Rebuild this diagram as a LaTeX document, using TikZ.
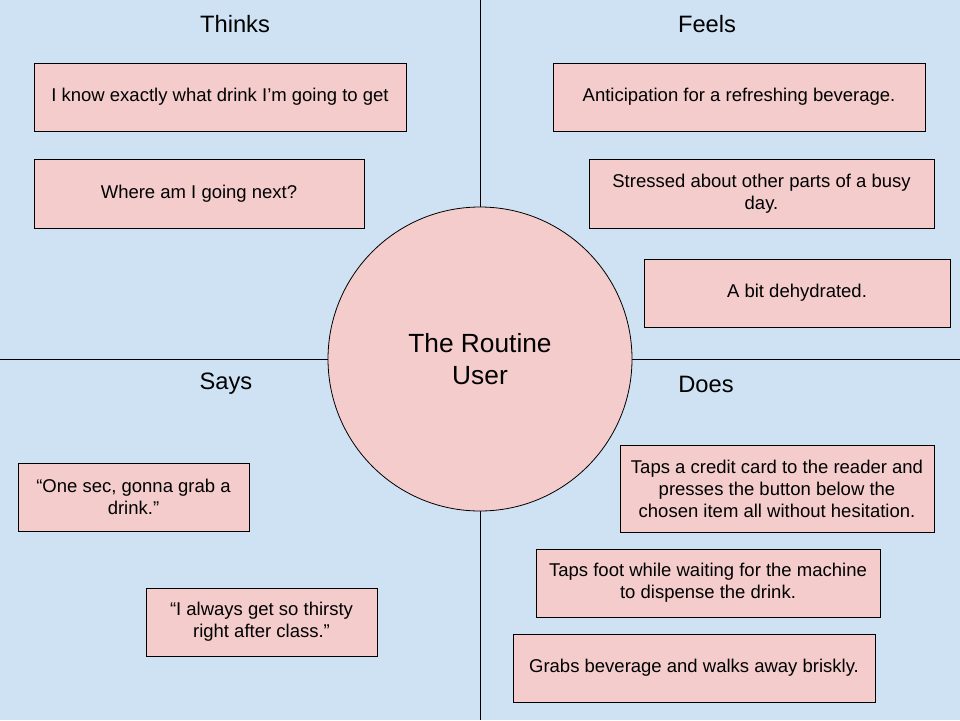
\documentclass[tikz,border=0pt]{standalone}
\usepackage{fontspec}
\setmainfont{Liberation Sans}
\usepackage{xcolor}
\usetikzlibrary{positioning}
\definecolor{mapblue}{HTML}{CFE2F3}
\definecolor{notepink}{HTML}{F4CCCC}

\begin{document}
\begin{tikzpicture}[x=1pt, y=-1pt,
                note/.style={draw=black, fill=notepink, line width=0.8pt,
                    minimum height=68pt, inner sep=0pt, align=center,
                    font=\fontsize{18.5}{22}\selectfont},
                heading/.style={font=\fontsize{23.7}{28}\selectfont},
                divider/.style={line width=0.8pt}]
            % background and quadrants
            \fill[mapblue] (0, 0) rectangle (960, 720);
            \useasboundingbox (0, 0) rectangle (960, 720);
            \coordinate (top) at (480, 0);
            \coordinate (bottom) at (480, 720);
            \coordinate (left) at (0, 359);
            \coordinate (right) at (960, 359);
            \draw[divider] (top) -- (bottom);
            \draw[divider] (left) -- (right);
            \node[circle, draw=black, fill=notepink, line width=0.8pt, minimum size=304pt,
                  inner sep=0pt, align=center, font=\fontsize{26.3}{32}\selectfont]
                (user) at (480, 359) {The Routine\\User};
            % headings
            \node[heading] (thinks) at (235, 24) {Thinks};
            \node[heading] (feels) at (707, 24) {Feels};
            \node[heading] (says) at (226, 384) {Says};
            \node[heading] (does) at (706, 384) {Does};
            % thinks
            \node[note, minimum width=372pt] (think1) at (220, 97) {I know exactly what drink I’m going to get};
            \node[note, minimum width=330pt, minimum height=69pt] (think2) at (199, 193.5) {Where am I going next?};
            % feels
            \node[note, minimum width=372pt] (feel1) at (739, 97) {Anticipation for a refreshing beverage.};
            \node[note, minimum width=345pt, minimum height=69pt] (feel2) at (761.5, 193.5) {Stressed about other parts of a busy\\day.};
            \node[note, minimum width=306pt] (feel3) at (797, 293) {A bit dehydrated.};
            % says
            \node[note, minimum width=231pt] (say1) at (133.5, 497) {“One sec, gonna grab a\\drink.”};
            \node[note, minimum width=231pt] (say2) at (261.5, 622) {“I always get so thirsty\\right after class.”};
            % does
            \node[note, minimum width=314pt, minimum height=87pt] (do1) at (777, 488.5) {Taps a credit card to the reader and\\presses the button below the\\chosen item all without hesitation.};
            \node[note, minimum width=344pt] (do2) at (708, 583) {Taps foot while waiting for the machine\\to dispense the drink.};
            \node[note, minimum width=362pt] (do3) at (694, 668) {Grabs beverage and walks away briskly.};
        \end{tikzpicture}
\end{document}
